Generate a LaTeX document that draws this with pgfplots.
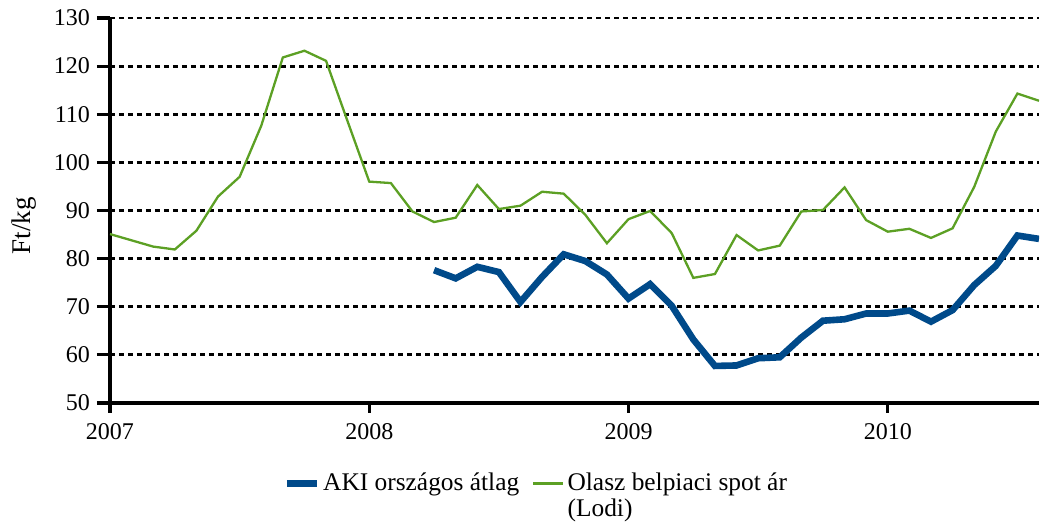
\documentclass[border=0pt]{standalone}
\usepackage{fontspec}
\setmainfont{Liberation Serif}
\usepackage{pgfplots}
\pgfplotsset{compat=1.18}
\definecolor{akiblue}{RGB}{0,74,138}
\definecolor{lodigreen}{RGB}{92,160,36}
\begin{document}
\begin{tikzpicture}
\begin{axis}[
  scale only axis,
  width=464.5pt, height=192.5pt,
  xmin=0, xmax=43, ymin=50, ymax=130,
  axis lines*=left,
  axis line style={line width=1.6pt,-},
  tick align=outside,
  major tick length=6.5pt,
  tick style={line width=1.6pt,black},
  xtick style={/pgfplots/major tick length=5pt},
  xtick={0,12,24,36},
  xticklabels={2007,2008,2009,2010},
  ytick={50,60,...,130},
  ymajorgrids,
  major grid style={black,line width=1.4pt,dash pattern=on 2.4pt off 2.1pt},
  ticklabel style={font=\fontsize{12}{13}\selectfont},
  /pgf/number format/assume math mode=true,
  ylabel={Ft/kg},
  ylabel style={font=\fontsize{13.5}{14}\selectfont, at={(axis description cs:-0.093,0.46)}, anchor=center},
  legend style={draw=none, fill=none, at={(axis description cs:0.18,-0.158)}, anchor=north west,
    font=\fontsize{12.7}{14}\selectfont, legend columns=2,
    nodes={anchor=base west, inner sep=1.5pt},
    /tikz/every even column/.append style={column sep=5pt}},
  legend image code/.code={\draw[#1] (0pt,3.6pt) -- (15pt,3.6pt);},
  legend cell align=left,
]
\addplot[akiblue, line width=3.3pt] coordinates {
(15,77.6) (16,75.9) (17,78.3) (18,77.2) (19,71.0) (20,76.2) (21,80.9) (22,79.5)
(23,76.7) (24,71.7) (25,74.7) (26,70.2) (27,63.2) (28,57.7) (29,57.8) (30,59.3)
(31,59.5) (32,63.6) (33,67.1) (34,67.4) (35,68.6) (36,68.6) (37,69.2) (38,66.9)
(39,69.3) (40,74.5) (41,78.5) (42,84.8) (43,84.1)
};
\addlegendentry{AKI országos átlag}
\addplot[lodigreen, line width=1.15pt] coordinates {
(0,85.1) (1,83.8) (2,82.5) (3,81.9) (4,85.8) (5,92.9) (6,97.0) (7,107.6)
(8,121.8) (9,123.2) (10,121.1) (11,108.5) (12,96.0) (13,95.7) (14,89.8) (15,87.6)
(16,88.5) (17,95.3) (18,90.3) (19,91.0) (20,93.9) (21,93.5) (22,89.1) (23,83.2)
(24,88.2) (25,89.9) (26,85.3) (27,76.0) (28,76.8) (29,84.9) (30,81.7) (31,82.7)
(32,89.8) (33,90.1) (34,94.8) (35,88.0) (36,85.6) (37,86.2) (38,84.3) (39,86.3)
(40,94.9) (41,106.4) (42,114.3) (43,112.8)
};
\addlegendentry{\begin{tabular}[t]{@{}l@{}}Olasz belpiaci spot ár\\[-1pt](Lodi)\end{tabular}}
\end{axis}
\pgfresetboundingbox
\path ([xshift=-55pt,yshift=-62.5pt]current axis.south west) rectangle ([xshift=1.5pt,yshift=9pt]current axis.north east);
\end{tikzpicture}
\end{document}
